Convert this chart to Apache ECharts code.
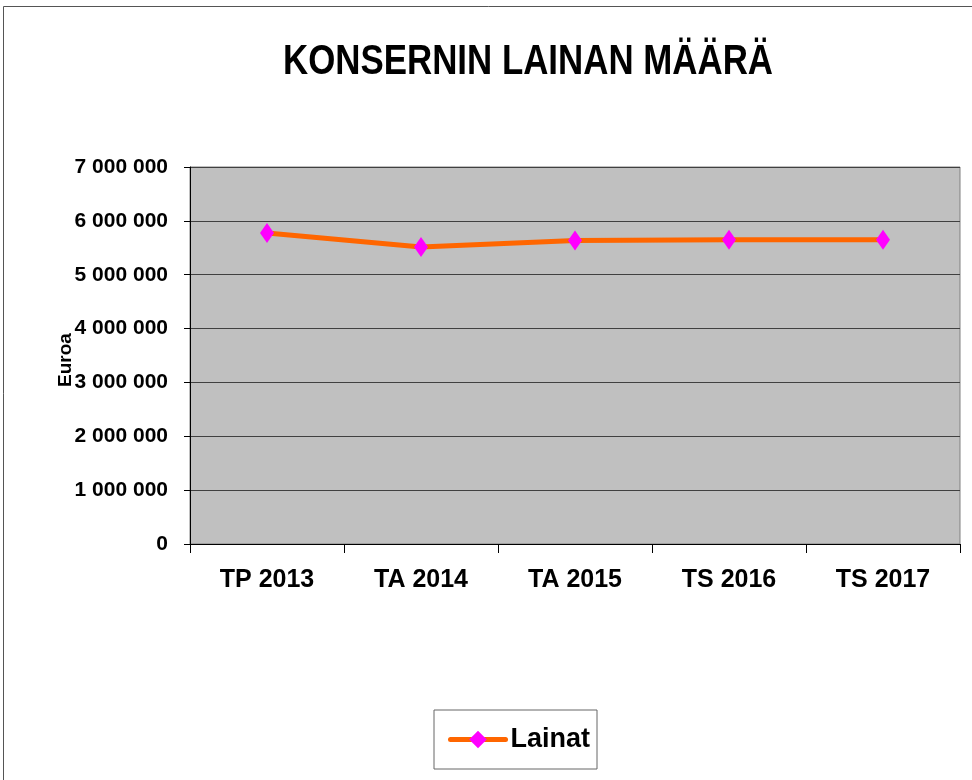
<!DOCTYPE html>
<html><head><meta charset="utf-8">
<script src="https://cdn.jsdelivr.net/npm/echarts@6/dist/echarts.min.js"></script>
<style>html,body{margin:0;padding:0;background:#fff}#c{width:972px;height:780px}</style>
</head><body><div id="c"></div>
<script>
var categories = ['TP 2013', 'TA 2014', 'TA 2015', 'TS 2016', 'TS 2017'];
var lainat = [5773000, 5516000, 5637000, 5650000, 5650000];
var yTicks = [0, 1000000, 2000000, 3000000, 4000000, 5000000, 6000000, 7000000];
var titleText = 'KONSERNIN LAINAN MÄÄRÄ';
var yName = 'Euroa';

var chart = echarts.init(document.getElementById('c'), null, {renderer: 'canvas'});
function fmt(v){ return String(v).replace(/\B(?=(\d{3})+(?!\d))/g, ' '); }
var sans = '"Liberation Sans", Arial, sans-serif';
chart.setOption({
  animation: false,
  backgroundColor: '#fff',
  graphic: [{
    type: 'rect', shape: {x: 3.5, y: 6.5, width: 1200, height: 1200},
    style: {fill: null, stroke: '#555', lineWidth: 1}, silent: true, z: -1
  }, {
    type: 'text', x: 528, y: 62, scaleX: 0.83, silent: true,
    style: {text: titleText, textAlign: 'center', textVerticalAlign: 'middle',
      font: 'bold 42px "Liberation Sans", Arial, sans-serif', fill: '#000'}
  }, {
    type: 'text', x: 66, y: 360, rotation: Math.PI / 2, silent: true, z: 10,
    style: {text: yName, textAlign: 'center', textVerticalAlign: 'middle',
      font: 'bold 19px "Liberation Sans", Arial, sans-serif', fill: '#000'}
  }],
  grid: {
    left: 190, top: 167, right: 12, bottom: 236, show: true,
    backgroundColor: '#C0C0C0', borderColor: '#808080', borderWidth: 1
  },
  legend: {
    data: ['Lainat'], left: 434, top: 710,
    padding: [16, 7, 16, 14], borderColor: '#666', borderWidth: 1,
    itemWidth: 55, itemHeight: 22, itemGap: 4,
    lineStyle: {width: 5, cap: 'round'},
    textStyle: {fontFamily: sans, fontSize: 27, fontWeight: 'bold', color: '#000'}
  },
  xAxis: {
    type: 'category', data: categories, boundaryGap: true,
    axisLine: {lineStyle: {color: '#000', width: 1}},
    axisTick: {show: true, length: 9, lineStyle: {color: '#000'}},
    axisLabel: {margin: 24, fontFamily: sans, fontSize: 25, fontWeight: 'bold', color: '#000'},
    splitLine: {show: false}
  },
  yAxis: {
    type: 'value', min: 0, max: 7000000, interval: 1000000,
    axisLine: {show: true, lineStyle: {color: '#000', width: 1}},
    axisTick: {show: true, length: 6, inside: false, lineStyle: {color: '#000'}},
    axisLabel: {margin: 22, fontFamily: sans, fontSize: 21, fontWeight: 'bold', color: '#000',
      formatter: function(v){ return fmt(v); }},
    splitLine: {show: true, lineStyle: {color: '#404040', width: 1}}
  },
  series: [{
    name: 'Lainat', type: 'line', data: lainat,
    lineStyle: {color: '#FF6600', width: 5},
    itemStyle: {color: '#FF00FF'},
    symbol: 'diamond', symbolSize: [14, 20], showSymbol: true
  }]
});
</script></body></html>
